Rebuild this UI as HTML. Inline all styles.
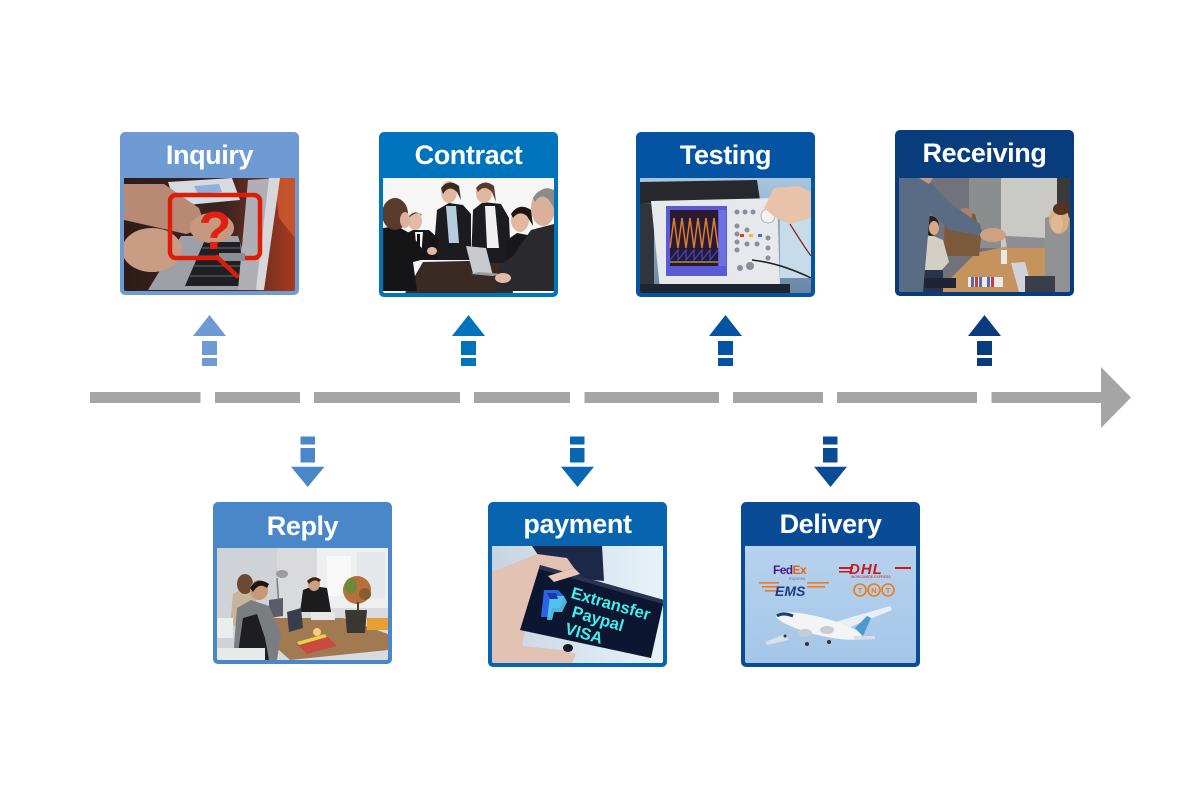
<!DOCTYPE html>
<html>
<head>
<meta charset="utf-8">
<style>
  html,body{margin:0;padding:0;background:#fff;}
  body{width:1200px;height:790px;position:relative;overflow:hidden;font-family:"Liberation Sans",sans-serif;}
  .card{position:absolute;width:179px;border-radius:5px;overflow:hidden;}
  .hd{position:absolute;left:0;top:0;width:100%;text-align:center;color:#fff;font-weight:bold;font-size:27px;letter-spacing:-0.4px;}
  .img{position:absolute;left:4px;width:171px;overflow:hidden;border-radius:0 0 2px 2px;}
  .img svg{display:block;width:100%;height:100%;}
  #lines{position:absolute;left:0;top:0;}
</style>
</head>
<body>

<svg id="lines" width="1200" height="790" viewBox="0 0 1200 790">
  <g fill="#a5a5a5">
    <rect x="90" y="392" width="110.5" height="11"/>
    <rect x="215" y="392" width="85" height="11"/>
    <rect x="314" y="392" width="146" height="11"/>
    <rect x="474" y="392" width="96" height="11"/>
    <rect x="584.5" y="392" width="134.5" height="11"/>
    <rect x="733" y="392" width="90" height="11"/>
    <rect x="837" y="392" width="140" height="11"/>
    <rect x="991.5" y="392" width="110" height="11"/>
    <polygon points="1101,367 1131,397.5 1101,428"/>
  </g>
  <!-- up arrows -->
  <g fill="#6e9bd3">
    <polygon points="193,336 209.5,315 226,336"/>
    <rect x="202" y="341" width="15" height="14"/>
    <rect x="202" y="358" width="15" height="8"/>
  </g>
  <g fill="#0073bd">
    <polygon points="452,336 468.5,315 485,336"/>
    <rect x="461" y="341" width="15" height="14"/>
    <rect x="461" y="358" width="15" height="8"/>
  </g>
  <g fill="#0554a4">
    <polygon points="709,336 725.5,315 742,336"/>
    <rect x="718" y="341" width="15" height="14"/>
    <rect x="718" y="358" width="15" height="8"/>
  </g>
  <g fill="#083c7d">
    <polygon points="968,336 984.5,315 1001,336"/>
    <rect x="977" y="341" width="15" height="14"/>
    <rect x="977" y="358" width="15" height="8"/>
  </g>
  <!-- down arrows -->
  <g fill="#4a87c8">
    <rect x="300.5" y="436.5" width="14.5" height="8"/>
    <rect x="300.5" y="448" width="14.5" height="14.5"/>
    <polygon points="291,466.7 324.5,466.7 307.7,487"/>
  </g>
  <g fill="#0866b2">
    <rect x="570" y="436.5" width="14.5" height="8"/>
    <rect x="570" y="448" width="14.5" height="14.5"/>
    <polygon points="561,466.7 594,466.7 577.5,487"/>
  </g>
  <g fill="#0a4b96">
    <rect x="823" y="436.5" width="14.5" height="8"/>
    <rect x="823" y="448" width="14.5" height="14.5"/>
    <polygon points="814,466.7 847,466.7 830.5,487"/>
  </g>
</svg>

<!-- Inquiry -->
<div class="card" style="left:120px;top:132px;height:163px;background:#6e9bd3;">
  <div class="hd" style="height:46px;line-height:46px;">Inquiry</div>
  <div class="img" style="top:46px;height:113px;">
    <svg viewBox="0 0 171 113" preserveAspectRatio="none">
      <defs>
        <linearGradient id="iqg" x1="0" y1="0" x2="1" y2="0">
          <stop offset="0" stop-color="#2e1c18"/>
          <stop offset="0.6" stop-color="#3c2420"/>
          <stop offset="1" stop-color="#a83a20"/>
        </linearGradient>
      </defs>
      <rect width="171" height="113" fill="url(#iqg)"/>
      <polygon points="150,0 171,0 171,60 155,40" fill="#d05a30" opacity="0.8"/>
      <polygon points="44,4 108,0 116,22 52,28" fill="#d6dae2"/>
      <polygon points="70,8 95,6 98,14 74,16" fill="#8fb0d8"/>
      <polygon points="0,6 40,6 75,30 82,50 62,56 0,42" fill="#b88a76"/>
      <polygon points="24,112 57,58 114,58 131,112" fill="#9ea0a8"/>
      <polygon points="61,108 80,64 116,64 120,108" fill="#1f1f24"/>
      <g stroke="#6a6a72" stroke-width="1">
        <line x1="66" y1="98" x2="119" y2="98"/>
        <line x1="70" y1="88" x2="118" y2="88"/>
        <line x1="74" y1="78" x2="117" y2="78"/>
        <line x1="78" y1="70" x2="116" y2="70"/>
      </g>
      <polygon points="124,2 156,0 148,30 132,112 114,112" fill="#aeb0b6"/>
      <polygon points="145,0 156,0 140,112 132,112" fill="#d8d8dc"/>
      <ellipse cx="28" cy="72" rx="30" ry="22" fill="#c99c84"/>
      <ellipse cx="88" cy="50" rx="22" ry="15" fill="#c8987e"/>
      <rect x="46" y="17" width="90" height="63" rx="6" fill="none" stroke="#dc1e08" stroke-width="4.5"/>
      <rect x="95" y="75" width="26" height="8" fill="#8c8e96"/>
      <line x1="93" y1="79" x2="113" y2="98" stroke="#dc1e08" stroke-width="4.5" stroke-linecap="round"/>
      <text x="91" y="71" text-anchor="middle" font-family="Liberation Sans, sans-serif" font-weight="bold" font-size="54" fill="#e02010">?</text>
    </svg>
  </div>
</div>

<!-- Contract -->
<div class="card" style="left:379px;top:132px;height:165px;background:#0073bd;">
  <div class="hd" style="height:46px;line-height:46px;">Contract</div>
  <div class="img" style="top:46px;height:115px;">
    <svg viewBox="0 0 171 115" preserveAspectRatio="none">
      <rect width="171" height="115" fill="#f6f6f6"/>
      <polygon points="22,115 40,84 125,82 130,115" fill="#3a2a24"/>
      <!-- standing woman 1 -->
      <polygon points="50,82 54,32 66,25 80,27 88,36 88,82" fill="#1c1c20"/>
      <polygon points="63,28 73,28 76,65 66,65" fill="#b8cce0"/>
      <ellipse cx="66" cy="14" rx="8" ry="11" fill="#e0b8a0"/>
      <path d="M58,10 Q66,0 76,8 L78,22 L74,14 Q66,6 60,16Z" fill="#3a2a20"/>
      <!-- standing woman 2 -->
      <polygon points="88,85 90,32 100,24 118,26 126,40 128,85" fill="#1c1c20"/>
      <polygon points="102,28 112,28 116,70 104,70" fill="#f0f0f0"/>
      <ellipse cx="101" cy="15" rx="8" ry="10" fill="#e0b8a0"/>
      <path d="M93,10 Q101,0 111,8 L113,24 L109,14 Q101,6 95,14Z" fill="#5a3a28"/>
      <!-- seated man -->
      <polygon points="17,82 22,56 30,52 46,52 55,60 55,82" fill="#16161a"/>
      <polygon points="32,54 40,54 38,80 34,80" fill="#f4f4f4"/>
      <rect x="34" y="56" width="3" height="22" fill="#111"/>
      <ellipse cx="32" cy="43" rx="7" ry="9" fill="#e2bca2"/>
      <path d="M25,40 Q32,30 39,38 L38,36 Q32,33 26,40Z" fill="#3a2a20"/>
      <!-- left woman -->
      <polygon points="0,113 0,50 14,48 28,56 40,72 46,80 30,84 34,113" fill="#151517"/>
      <ellipse cx="12" cy="36" rx="13" ry="16" fill="#5a3a2a"/>
      <ellipse cx="22" cy="42" rx="5" ry="8" fill="#dcb09a"/>
      <ellipse cx="49" cy="73" rx="5" ry="4" fill="#e0b8a0"/>
      <!-- laptop -->
      <polygon points="83,68 103,70 110,98 90,96" fill="#c8cacd"/>
      <polygon points="88,96 110,98 120,96 96,94" fill="#9a9ca0"/>
      <!-- seated woman right -->
      <polygon points="122,92 124,62 134,55 150,58 158,70 158,92" fill="#18181c"/>
      <ellipse cx="137" cy="42" rx="9" ry="12" fill="#e0b8a0"/>
      <path d="M128,36 Q136,24 148,32 L150,48 L144,38 Q136,32 130,40Z" fill="#1e1410"/>
      <!-- right man -->
      <polygon points="112,113 116,88 130,78 148,52 171,46 171,113" fill="#2a2a2e"/>
      <ellipse cx="160" cy="30" rx="12" ry="18" fill="#dab09a"/>
      <path d="M150,20 Q160,6 171,12 L171,30 L166,22 Q158,14 152,24Z" fill="#8a8a88"/>
      <ellipse cx="120" cy="100" rx="8" ry="5" fill="#e2bca2"/>
    </svg>
  </div>
</div>

<!-- Testing -->
<div class="card" style="left:636px;top:132px;height:165px;background:#0554a4;">
  <div class="hd" style="height:46px;line-height:46px;">Testing</div>
  <div class="img" style="top:46px;height:115px;">
    <svg viewBox="0 0 171 115" preserveAspectRatio="none">
      <defs>
        <linearGradient id="tbg" x1="0" y1="0" x2="0" y2="1">
          <stop offset="0" stop-color="#a8c6de"/>
          <stop offset="1" stop-color="#6a86a6"/>
        </linearGradient>
      </defs>
      <rect width="171" height="115" fill="url(#tbg)"/>
      <rect x="140" y="40" width="31" height="60" fill="#c6dcea"/>
      <polygon points="0,4 117,2 120,22 0,26" fill="#26282e"/>
      <rect x="0" y="26" width="14" height="89" fill="#30343c"/>
      <polygon points="11,23 137,20 140,106 20,111" fill="#e6e8ec"/>
      <rect x="26" y="28" width="61" height="70" fill="#5a5ad4"/>
      <rect x="30" y="32" width="48" height="56" fill="#2a1a30"/>
      <polyline points="30,70 34,40 38,70 42,40 46,70 50,40 54,70 58,40 62,70 66,40 70,70 74,40 78,70" fill="none" stroke="#d8803a" stroke-width="1.5"/>
      <polyline points="30,82 38,72 38,82 46,72 46,82 54,72 54,82 62,72 62,82 70,72 70,82 78,72" fill="none" stroke="#3a4ad0" stroke-width="1.2"/>
      <line x1="30" y1="84" x2="78" y2="84" stroke="#e0d040" stroke-width="1"/>
      <rect x="79" y="32" width="7" height="56" fill="#7070e0"/>
      <g fill="#8a8e98">
        <circle cx="97" cy="34" r="2.5"/><circle cx="105" cy="34" r="2.5"/><circle cx="113" cy="34" r="2.5"/>
        <circle cx="97" cy="48" r="2.5"/><circle cx="97" cy="56" r="2.5"/><circle cx="97" cy="64" r="2.5"/><circle cx="97" cy="72" r="2.5"/>
        <circle cx="107" cy="52" r="2.5"/><circle cx="107" cy="66" r="2.5"/><circle cx="117" cy="66" r="2.5"/>
        <circle cx="128" cy="60" r="2.5"/><circle cx="128" cy="70" r="2.5"/><circle cx="128" cy="80" r="2.5"/>
        <circle cx="110" cy="88" r="4"/><circle cx="100" cy="90" r="3"/>
      </g>
      <rect x="100" y="56" width="4" height="3" fill="#e03a2a"/>
      <rect x="109" y="56" width="4" height="3" fill="#f0c020"/>
      <rect x="118" y="56" width="4" height="3" fill="#3a70d0"/>
      <circle cx="128" cy="38" r="7" fill="#f4f4f4" stroke="#b0b4bc" stroke-width="1"/>
      <polygon points="124,30 134,10 158,8 171,14 171,40 150,46 136,40" fill="#e8c2aa"/>
      <path d="M150,46 Q165,70 171,78" stroke="#8a2020" stroke-width="1.2" fill="none"/>
      <path d="M112,82 Q140,85 171,100" stroke="#202020" stroke-width="1.5" fill="none"/>
      <rect x="0" y="106" width="150" height="9" fill="#1e2430"/>
    </svg>
  </div>
</div>

<!-- Receiving -->
<div class="card" style="left:895px;top:130px;height:166px;background:#083c7d;">
  <div class="hd" style="height:48px;line-height:47px;">Receiving</div>
  <div class="img" style="top:48px;height:114px;">
    <svg viewBox="0 0 171 114" preserveAspectRatio="none">
      <rect width="171" height="114" fill="#70747a"/>
      <rect x="70" y="0" width="40" height="70" fill="#8a8e8e"/>
      <rect x="102" y="0" width="56" height="70" fill="#c9cac6"/>
      <rect x="158" y="0" width="13" height="40" fill="#3a3a3c"/>
      <polygon points="38,114 77,75 124,65 157,68 162,114" fill="#c4935e"/>
      <!-- center man -->
      <polygon points="44,78 46,42 60,34 76,36 82,60 80,78" fill="#7a5a3a"/>
      <ellipse cx="66" cy="38" rx="7" ry="8" fill="#b08060"/>
      <!-- left woman -->
      <polygon points="14,95 18,62 30,56 44,62 50,84 40,95" fill="#d4cec4"/>
      <ellipse cx="32" cy="48" rx="8" ry="10" fill="#2a1e18"/>
      <ellipse cx="35" cy="50" rx="5" ry="7" fill="#d8a888"/>
      <polygon points="11,92 44,92 44,114 11,114" fill="#28344e"/>
      <!-- left person blue shirt -->
      <polygon points="0,0 27,0 51,25 81,46 84,58 51,52 31,34 24,114 0,114" fill="#5a6c84"/>
      <polygon points="20,0 34,0 30,6" fill="#c49a7a"/>
      <!-- handshake -->
      <ellipse cx="94" cy="57" rx="13" ry="7" fill="#d0a080"/>
      <!-- right woman -->
      <polygon points="106,58 150,60 150,70 108,70" fill="#8e8e90"/>
      <polygon points="146,40 162,34 171,40 171,114 146,114" fill="#909294"/>
      <ellipse cx="160" cy="42" rx="10" ry="14" fill="#d8b080"/>
      <ellipse cx="158" cy="46" rx="6" ry="9" fill="#e2b898"/>
      <ellipse cx="162" cy="31" rx="8" ry="6" fill="#5a3020"/>
      <!-- items -->
      <rect x="69" y="99" width="35" height="10" fill="#eaeaea"/>
      <g fill="#5a6ab0"><rect x="72" y="99" width="3" height="10"/><rect x="80" y="99" width="3" height="10"/><rect x="88" y="99" width="3" height="10"/></g>
      <g fill="#c04040"><rect x="76" y="99" width="3" height="10"/><rect x="92" y="99" width="3" height="10"/></g>
      <rect x="25" y="100" width="32" height="10" fill="#1e2436"/>
      <polygon points="112,85 126,84 134,114 120,114" fill="#d0d4d8"/>
      <rect x="126" y="98" width="30" height="16" fill="#3a3e48"/>
      <rect x="102" y="72" width="6" height="14" fill="#e8e8e4"/>
    </svg>
  </div>
</div>

<!-- Reply -->
<div class="card" style="left:213px;top:502px;height:162px;background:#4a87c8;">
  <div class="hd" style="height:46px;line-height:48px;">Reply</div>
  <div class="img" style="top:46px;height:112px;">
    <svg viewBox="0 0 171 112" preserveAspectRatio="none">
      <rect width="171" height="112" fill="#d8dadd"/>
      <rect x="0" y="0" width="60" height="112" fill="#cfd2d6"/>
      <rect x="100" y="0" width="71" height="60" fill="#eef0f0"/>
      <rect x="110" y="8" width="24" height="40" fill="#f8f8f8"/>
      <rect x="140" y="4" width="28" height="46" fill="#e4e8ea"/>
      <line x1="60" y1="30" x2="62" y2="60" stroke="#7a7c80" stroke-width="1.5"/>
      <ellipse cx="65" cy="26" rx="6" ry="4" fill="#9a9c9e"/>
      <!-- table -->
      <polygon points="53,70 126,70 171,86 171,102 73,112 53,94" fill="#a27a52"/>
      <!-- right man black -->
      <polygon points="83,64 86,42 96,38 110,40 114,64" fill="#1c1c1e"/>
      <ellipse cx="97" cy="36" rx="6" ry="7" fill="#caa080"/>
      <path d="M90,33 Q97,26 104,32 L102,34 Q97,30 92,36Z" fill="#3a2418"/>
      <!-- laptops -->
      <polygon points="52,52 66,50 66,68 52,70" fill="#5a5c66"/>
      <polygon points="70,64 84,60 86,80 72,84" fill="#3a3e4a"/>
      <rect x="94" y="64" width="24" height="8" fill="#e8e6e4"/>
      <!-- woman left -->
      <polygon points="13,78 16,46 26,40 38,44 42,78" fill="#c6b49c"/>
      <ellipse cx="28" cy="36" rx="8" ry="10" fill="#6a4a32"/>
      <!-- man front -->
      <polygon points="16,112 20,60 34,52 52,58 64,86 60,112" fill="#7a7e80"/>
      <polygon points="20,112 26,70 40,66 48,90 52,112" fill="#1e1e22"/>
      <ellipse cx="42" cy="42" rx="9" ry="10" fill="#c8987a"/>
      <path d="M33,40 Q40,28 52,36 L50,40 Q42,34 36,44Z" fill="#1e1410"/>
      <!-- chairs -->
      <rect x="0" y="70" width="16" height="20" fill="#eceeee"/>
      <rect x="0" y="100" width="48" height="12" fill="#e8eaea"/>
      <!-- books -->
      <polygon points="80,96 110,88 120,98 90,106" fill="#c84a40"/>
      <polygon points="80,94 108,86 110,89 82,97" fill="#e8d04a"/>
      <!-- plant -->
      <polygon points="128,62 150,62 148,85 130,85" fill="#3a3632"/>
      <ellipse cx="140" cy="42" rx="14" ry="14" fill="#b8703a"/>
      <ellipse cx="134" cy="38" rx="6" ry="8" fill="#6a8a3a"/>
      <ellipse cx="148" cy="46" rx="6" ry="6" fill="#8a5a30"/>
      <rect x="140" y="54" width="2" height="10" fill="#4a4030"/>
      <rect x="150" y="70" width="21" height="12" fill="#e8a030"/>
      <circle cx="100" cy="84" r="4" fill="#f4d080"/>
    </svg>
  </div>
</div>

<!-- payment -->
<div class="card" style="left:488px;top:502px;height:165px;background:#0864af;">
  <div class="hd" style="height:44px;line-height:44px;">payment</div>
  <div class="img" style="top:44px;height:117px;">
    <svg viewBox="0 0 171 117" preserveAspectRatio="none">
      <defs>
        <linearGradient id="pbg" x1="0" y1="0" x2="1" y2="0">
          <stop offset="0" stop-color="#c8d4e0"/>
          <stop offset="0.55" stop-color="#d8e6f0"/>
          <stop offset="1" stop-color="#e8f2f8"/>
        </linearGradient>
      </defs>
      <rect width="171" height="117" fill="url(#pbg)"/>
      <polygon points="40,0 110,0 112,35 60,30" fill="#1c2848"/>
      <!-- hand -->
      <polygon points="0,26 45,8 75,12 82,22 56,30 40,50 30,100 70,104 84,108 80,117 0,117" fill="#e2c2b2"/>
      <!-- phone -->
      <polygon points="48,19 172,54 159,112 28,84" fill="#0c1630"/>
      <polygon points="48,19 172,54 171,58 47,23" fill="#2a3450"/>
      <!-- paypal logo -->
      <polygon points="52,44 66,44 72,50 68,62 60,62 58,71 49,71" fill="#2a64e0"/>
      <polygon points="58,50 72,50 75,56 70,66 62,66 60,74 55,74" fill="#5ad0f4" opacity="0.85"/>
      <polygon points="55,47 64,47 66,53 58,53" fill="#1a3aa0"/>
      <g transform="rotate(16 80 45)" font-family="Liberation Sans, sans-serif" font-weight="bold" fill="#40eef0">
        <text x="80" y="52" font-size="16.5">Extransfer</text>
        <text x="86" y="70" font-size="16.5">Paypal</text>
        <text x="84" y="88" font-size="16.5">VISA</text>
      </g>
      <ellipse cx="76" cy="102" rx="5" ry="4" fill="#1a1a24"/>
      <polygon points="56,30 82,22 88,28 62,36" fill="#e8c8b8"/>
    </svg>
  </div>
</div>

<!-- Delivery -->
<div class="card" style="left:741px;top:502px;height:165px;background:#0a4b96;">
  <div class="hd" style="height:44px;line-height:44px;">Delivery</div>
  <div class="img" style="top:44px;height:117px;">
    <svg viewBox="0 0 171 117" preserveAspectRatio="none">
      <defs>
        <linearGradient id="dbg" x1="0" y1="0" x2="0" y2="1">
          <stop offset="0" stop-color="#b6d2ee"/>
          <stop offset="1" stop-color="#a6c6e8"/>
        </linearGradient>
      </defs>
      <rect width="171" height="117" fill="url(#dbg)"/>
      <text x="28" y="28" font-family="Liberation Sans, sans-serif" font-weight="bold" font-size="12" letter-spacing="-0.6"><tspan fill="#4d148c">Fed</tspan><tspan fill="#f06010">Ex</tspan></text>
      <text x="44" y="34" font-family="Liberation Sans, sans-serif" font-size="4.5" fill="#7a7a90">Express</text>
      <g fill="#c81818">
        <rect x="94" y="21" width="14" height="2"/>
        <rect x="94" y="25" width="12" height="1.5"/>
        <rect x="150" y="21" width="16" height="2"/>
      </g>
      <text x="104" y="28" font-family="Liberation Sans, sans-serif" font-weight="bold" font-style="italic" font-size="15" fill="#c81818" letter-spacing="1">DHL</text>
      <text x="106" y="32" font-family="Liberation Sans, sans-serif" font-size="3.5" fill="#c81818">WORLDWIDE EXPRESS</text>
      <g fill="#f07a20">
        <rect x="14" y="36" width="20" height="1.6"/>
        <rect x="17" y="40" width="16" height="1.6"/>
        <rect x="20" y="44" width="12" height="1.6"/>
        <rect x="62" y="36" width="22" height="1.6"/>
        <rect x="62" y="40" width="18" height="1.6"/>
      </g>
      <text x="30" y="50" font-family="Liberation Sans, sans-serif" font-weight="bold" font-style="italic" font-size="14" fill="#1e3a80">EMS</text>
      <g fill="none" stroke="#f07a10" stroke-width="1.6">
        <circle cx="115" cy="44" r="6"/><circle cx="129" cy="44" r="6"/><circle cx="143" cy="44" r="6"/>
      </g>
      <g font-family="Liberation Sans, sans-serif" font-weight="bold" font-size="7.5" fill="#f07a10" text-anchor="middle">
        <text x="115" y="47">T</text><text x="129" y="47">N</text><text x="143" y="47">T</text>
      </g>
      <!-- airplane -->
      <polygon points="90,76 145,60 147,64 98,84" fill="#e8eef4"/>
      <polygon points="40,88 20,96 22,99 44,94" fill="#d8e0e8"/>
      <ellipse cx="74" cy="80" rx="44" ry="9" transform="rotate(14 74 80)" fill="#f2f4f6"/>
      <path d="M32,70 Q38,66 48,70" stroke="#1e3a70" stroke-width="3" fill="none"/>
      <ellipse cx="60" cy="87" rx="7" ry="4" fill="#c8ccd2"/>
      <ellipse cx="82" cy="84" rx="7" ry="4" fill="#c8ccd2"/>
      <polygon points="110,82 122,70 126,72 118,90" fill="#4a9ad0"/>
      <polygon points="108,90 130,90 130,93 110,94" fill="#d8dee4"/>
      <g fill="#333"><circle cx="62" cy="98" r="2"/><circle cx="84" cy="96" r="2"/><circle cx="40" cy="90" r="1.5"/></g>
    </svg>
  </div>
</div>

</body>
</html>
